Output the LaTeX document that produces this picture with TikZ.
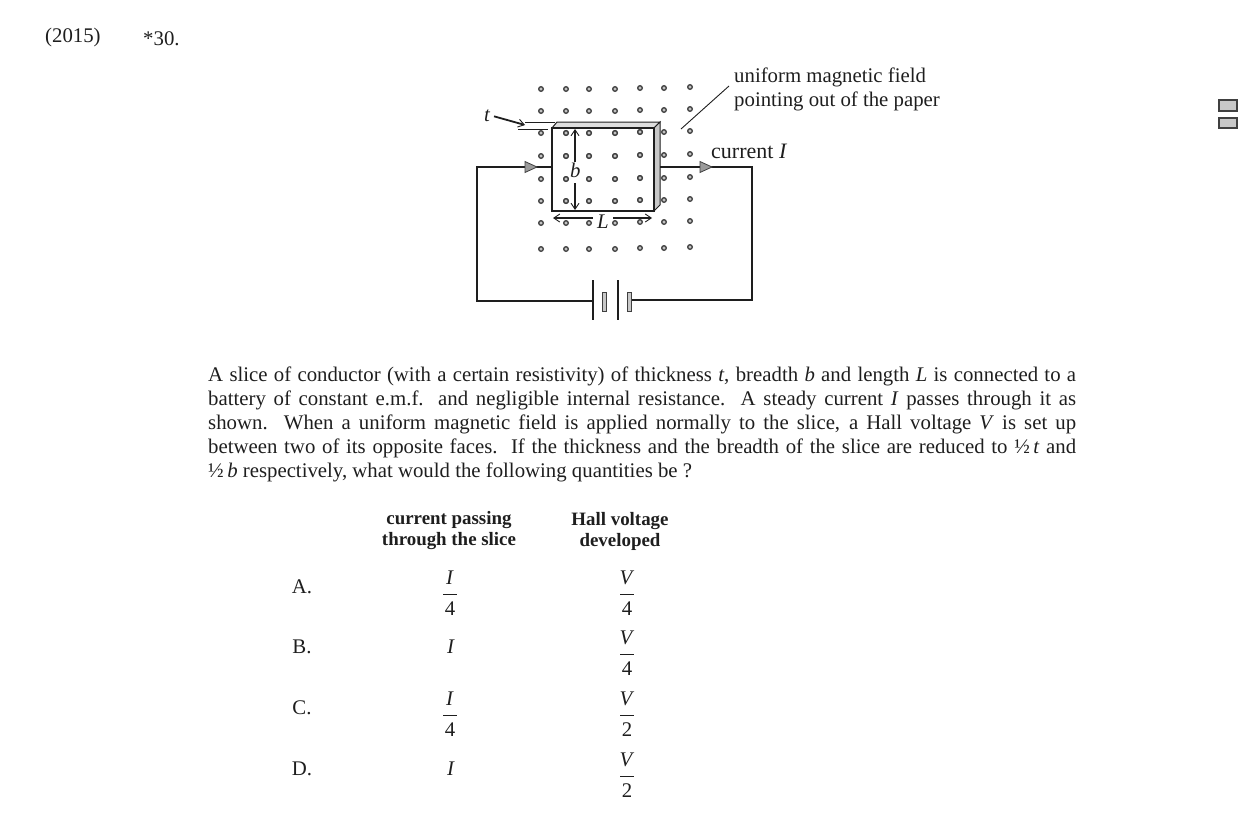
\documentclass[tikz,border=0pt]{standalone}
\usepackage{fontspec}
\setmainfont{Liberation Serif}
\usetikzlibrary{arrows.meta}
\definecolor{hallInk}{HTML}{1E1E1E}
\definecolor{hallDot}{HTML}{404040}
\definecolor{hallFace}{HTML}{C8C8C8}
\definecolor{hallMark}{HTML}{9A9A9A}
\newcommand{\qfrac}[2]{\begin{tabular}{@{}c@{}}\makebox[14pt]{\textit{#1}}\\[3pt]\hline\rule{0pt}{21pt}#2\end{tabular}}

\begin{document}
\begin{tikzpicture}[
    x=1pt, y=-1pt,
    txt/.style={font=\fontsize{20.8}{24}\selectfont, text=hallInk, anchor=base west, inner sep=0pt},
    ltr/.style={font=\fontsize{20.8}{24}\selectfont\itshape, text=hallInk, anchor=base west, inner sep=0pt},
    hdr/.style={font=\fontsize{18.9}{21}\selectfont\bfseries, text=hallInk, anchor=center, align=center, inner sep=0pt},
    ans/.style={font=\fontsize{20.8}{24}\selectfont, text=hallInk, anchor=center, inner sep=0pt},
    wire/.style={draw=hallInk, line width=1.4pt},
    plate/.style={draw=hallInk, line width=1.4pt},
    cell/.style={draw=hallDot, line width=0.9pt, fill=hallFace},
    dim/.style={draw=hallInk, line width=1.8pt, {Straight Barb[length=6pt,width=8pt,line width=0.9pt]}-},
    flow/.style={draw=hallDot, fill=hallMark, line width=0.8pt},
    fielddot/.style={circle, draw=hallDot, fill=hallMark!60, line width=1.3pt, minimum size=4.6pt, inner sep=0pt}
]
\useasboundingbox (0,0) rectangle (1240,825);

% === Question number ===
\node[txt] (year) at (45,42) {(2015)};
\node[txt] (num) at (143,45) {*30.};

% === Field dots ===
\foreach \row/\yy in {1/89,2/111,3/133,4/156,5/179,6/201,7/223,8/249} {
    \foreach \col/\xx/\dy in {1/541/0,2/566/0,3/589/0,4/615/0,5/640/-1,6/664/-1,7/690/-2} {
        \node[fielddot] (d\row\col) at (\xx,\yy+\dy) {};
    }
}

% === Slice ===
\draw[draw=hallInk, line width=1pt, fill=hallFace!60] (552,128) -- (557,122) -- (660,122) -- (654,128) -- cycle;
\draw[draw=hallInk, line width=1pt, fill=hallFace] (654,128) -- (660,122) -- (660,205) -- (654,211) -- cycle;
\draw[draw=hallInk, line width=1.4pt] (552,128) rectangle (654,211);
\foreach \row/\yy in {3/133,4/156,5/179,6/201} {
    \foreach \col/\xx/\dy in {2/566/0,3/589/0,4/615/0,5/640/-1} {
        \node[fielddot] (e\row\col) at (\xx,\yy+\dy) {};
    }
}

% === Circuit ===
\coordinate (sl) at (552,167);
\coordinate (sr) at (660,167);
\coordinate (bl) at (593,301);
\coordinate (br) at (631,300);
\draw[wire] (sl) -- (477,167) -- (477,301) -- (bl);
\draw[wire] (sr) -- (752,167) -- (752,300) -- (br);
\draw[flow] (525,161.5) -- (537,167) -- (525,172.5) -- cycle;
\draw[flow] (700,161.5) -- (712,167) -- (700,172.5) -- cycle;

% Battery
\draw[plate] (593,280) -- (593,320);
\draw[plate] (618,280) -- (618,320);
\draw[cell] (602,292) rectangle (606,311);
\draw[cell] (627,292) rectangle (631,311);

% === Labels on the slice ===
\node[ltr] (tlab) at (484,121) {t};
\node[ltr] (blab) at (570,177) {b};
\node[ltr] (llab) at (597,228) {L};

% Thickness marks
\draw[draw=hallInk, line width=0.9pt] (525,122) -- (555,122);
\draw[draw=hallInk, line width=0.9pt] (518,129) -- (548,129);
\coordinate (tend) at (525,125);
\draw[dim, shorten >=4pt] (tend) -- (tlab.east);

% Breadth and length arrows
\coordinate (btop) at (575,129);
\coordinate (bbot) at (575,210);
\coordinate (lleft) at (553,218);
\coordinate (lright) at (652,218);
\draw[dim] (btop) -- (btop |- blab.north);
\draw[dim, shorten >=6pt] (bbot) -- (bbot |- blab.south);
\draw[dim, shorten >=4pt] (lleft) -- (lleft -| llab.west);
\draw[dim, shorten >=4pt] (lright) -- (lright -| llab.east);

% === Field and current labels ===
\node[txt] (field1) at (734,82) {uniform magnetic field};
\node[txt] (field2) at (734,106) {pointing out of the paper};
\node[txt, font=\fontsize{22}{24}\selectfont] (curr) at (711,158) {current \textit{I}};
\coordinate (fieldtip) at (681,129);
\draw[draw=hallInk, line width=0.9pt] (fieldtip) -- (729,86);

% === Question text ===
\node[txt, anchor=north west, text width=868pt, align=justify] (body) at (208,367) {%
A slice of conductor (with a certain resistivity) of thickness \textit{t}, breadth \textit{b} and length \textit{L} is connected to a\linebreak
battery of constant e.m.f. and negligible internal resistance.\ \ A steady current \textit{I} passes through it as\linebreak
shown.\ \ When a uniform magnetic field is applied normally to the slice, a Hall voltage \textit{V} is set up\linebreak
between two of its opposite faces.\ \ If the thickness and the breadth of the slice are reduced to ½\,\textit{t} and\linebreak
½\,\textit{b} respectively, what would the following quantities be ?\par};

% === Answer table ===
\node[hdr] (hcur) at (449,531) {current passing\\through the slice};
\node[hdr] (hall) at (620,531) {Hall voltage\\developed};

% Row A
\node[ans] (a) at (302,587) {A.};
\node[ans] (acur) at (450,595) {\qfrac{I}{4}};
\node[ans] (ahall) at (627,595) {\qfrac{V}{4}};

% Row B
\node[ans] (b) at (302,647) {B.};
\node[ans] (bcur) at (451,647) {\textit{I}};
\node[ans] (bhall) at (627,655) {\qfrac{V}{4}};

% Row C
\node[ans] (c) at (302,708) {C.};
\node[ans] (ccur) at (450,716) {\qfrac{I}{4}};
\node[ans] (chall) at (627,716) {\qfrac{V}{2}};

% Row D
\node[ans] (d) at (302,769) {D.};
\node[ans] (dcur) at (451,769) {\textit{I}};
\node[ans] (dhall) at (627,777) {\qfrac{V}{2}};

% === Page marks at the edge ===
\draw[draw=hallDot, line width=1.2pt, fill=hallFace] (1219,100) rectangle (1237,111);
\draw[draw=hallDot, line width=1.2pt, fill=hallFace] (1219,118) rectangle (1237,128);

\end{tikzpicture}
\end{document}
